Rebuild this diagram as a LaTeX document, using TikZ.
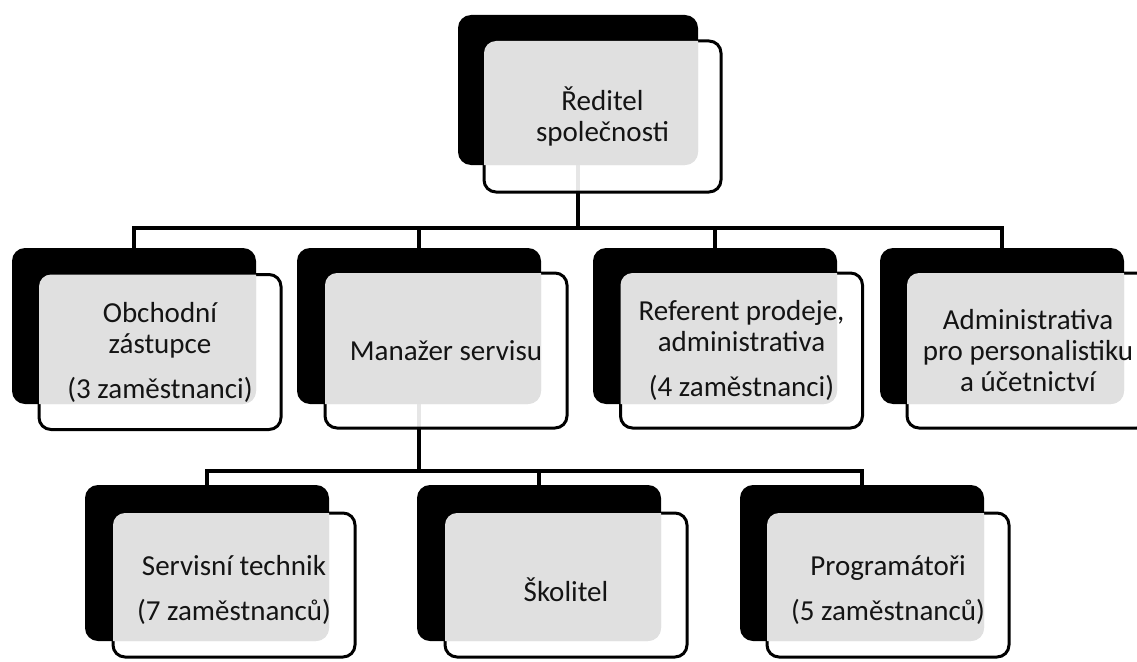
\documentclass[tikz,border=0pt]{standalone}
\usepackage{fontspec}
\setmainfont{Carlito}

\tikzset{
  back/.style={fill=black, rounded corners=13pt, inner sep=0pt, outer sep=0pt},
  front/.style={draw=black, line width=3pt, fill=white, fill opacity=0.9,
                rounded corners=12pt, inner sep=0pt, outer sep=0pt},
  shade/.style={fill=black!12},
  caption/.style={text=black!92, font=\fontsize{29}{31}\selectfont, align=center,
                  inner sep=0pt},
  link/.style={draw=black, line width=3.2pt},
}

% white card in front of its black back card; the overlap is tinted grey
\newcommand\frontcard[5]{%
  \node[front, minimum width=#4pt, minimum height=#5pt] (#1) at #3 {};
  \begin{scope}
    \clip[rounded corners=13pt] (#2.north west) rectangle (#2.south east);
    \fill[shade, rounded corners=12pt] (#1.north west) rectangle (#1.south east);
  \end{scope}}

\begin{document}
\begin{tikzpicture}[x=1pt, y=-1pt]
  \useasboundingbox (0,0) rectangle (1137,661);
  \clip (0,0) rectangle (1137,661);

  % black back cards
  \node[back, minimum width=240pt, minimum height=150pt] (b0) at (578,90) {};
  \node[back, minimum width=244pt, minimum height=156pt] (b1) at (134,326) {};
  \node[back, minimum width=244pt, minimum height=156pt] (b2) at (419,326) {};
  \node[back, minimum width=244pt, minimum height=156pt] (b3) at (715,326) {};
  \node[back, minimum width=244pt, minimum height=156pt] (b4) at (1002,326) {};
  \node[back, minimum width=244pt, minimum height=156pt] (b5) at (207,563) {};
  \node[back, minimum width=244pt, minimum height=156pt] (b6) at (539,563) {};
  \node[back, minimum width=244pt, minimum height=156pt] (b7) at (862,563) {};

  % connectors
  \coordinate (j0) at (578,228);
  \coordinate (j1) at (419,471);
  \draw[link] (b0.south) -- (j0);
  \draw[link] (b1.north) -- (b1.north |- j0) -- (b4.north |- j0) -- (b4.north);
  \draw[link] (b2.north) -- (b2.north |- j0);
  \draw[link] (b3.north) -- (b3.north |- j0);
  \draw[link] (b2.south) -- (j1);
  \draw[link] (b5.north) -- (b5.north |- j1) -- (b7.north |- j1) -- (b7.north);
  \draw[link] (b6.north) -- (b6.north |- j1);

  % white front cards
  \frontcard{w0}{b0}{(602.5,116.5)}{237}{151}
  \frontcard{w1}{b1}{(160,352)}{242}{155}
  \frontcard{w2}{b2}{(446,350.5)}{242}{155}
  \frontcard{w3}{b3}{(741.5,350.5)}{242}{155}
  \frontcard{w4}{b4}{(1028,350.5)}{242}{155}
  \frontcard{w5}{b5}{(234,585)}{242}{144}
  \frontcard{w6}{b6}{(566,585)}{242}{144}
  \frontcard{w7}{b7}{(888,585)}{242}{144}

  % captions
  \node[caption] (t0) at (w0.center) {Ředitel\\společnosti};
  \node[caption] (t1) at (w1.center) {Obchodní\\zástupce\\[14pt](3 zaměstnanci)};
  \node[caption] (t2) at (w2.center) {Manažer servisu};
  \node[caption] (t3) at (w3.center) {Referent prodeje,\\administrativa\\[14pt](4 zaměstnanci)};
  \node[caption] (t4) at (w4.center) {Administrativa\\pro personalistiku\\a účetnictví};
  \node[caption] (t5) at ([yshift=-5pt]w5.center) {Servisní technik\\[14pt](7 zaměstnanců)};
  \node[caption] (t6) at ([yshift=-5pt]w6.center) {Školitel};
  \node[caption] (t7) at ([yshift=-5pt]w7.center) {Programátoři\\[14pt](5 zaměstnanců)};
\end{tikzpicture}
\end{document}
